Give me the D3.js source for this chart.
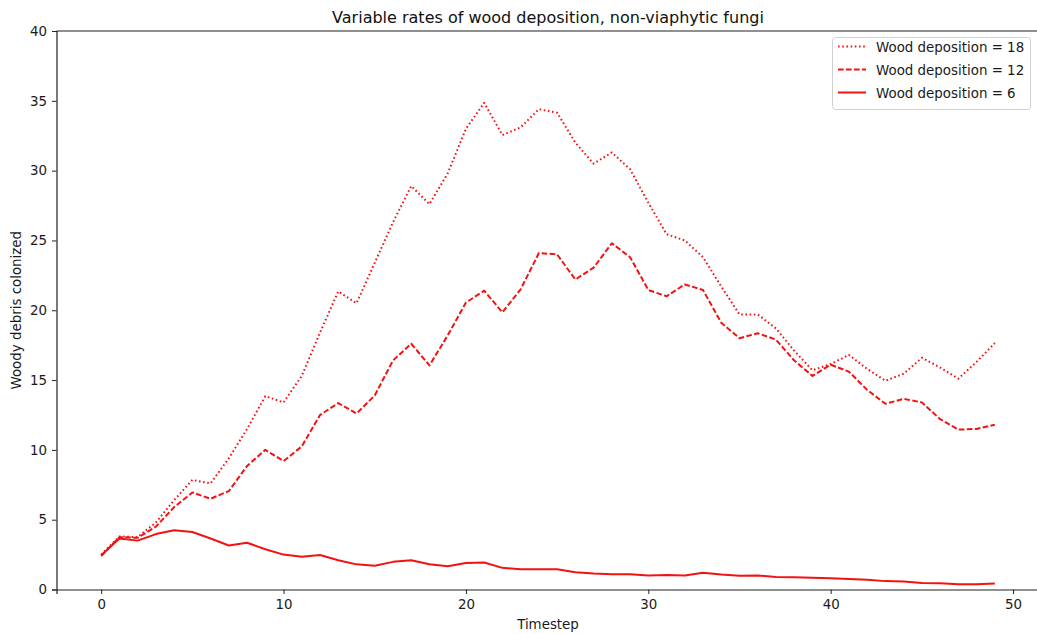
<!DOCTYPE html>
<html>
<head>
<meta charset="utf-8">
<script src="https://cdn.jsdelivr.net/npm/d3@7"></script>
<style>
  body { margin: 0; background: #fff; }
  svg { display: block; font-family: "DejaVu Sans", sans-serif; }
</style>
</head>
<body>
<svg id="chart" width="1037" height="634"></svg>
<script>
const timesteps = d3.range(0, 50);
const dep18 = [2.5, 3.8, 3.75, 4.8, 6.4, 7.85, 7.6, 9.4, 11.5, 13.85, 13.4, 15.3, 18.4, 21.35, 20.5, 23.4, 26.3, 28.9, 27.6, 29.8,
  33.0, 34.85, 32.55, 33.1, 34.4, 34.15, 32.0, 30.5, 31.3, 30.1, 27.7, 25.45, 25.0, 23.8, 21.7, 19.7, 19.7, 18.7, 17.1, 15.7,
  16.15, 16.8, 15.8, 14.95, 15.45, 16.6, 15.9, 15.1, 16.3, 17.65];
const dep12 = [2.4, 3.75, 3.7, 4.5, 5.9, 6.95, 6.5, 7.05, 8.85, 10.0, 9.2, 10.25, 12.5, 13.35, 12.6, 13.9, 16.4, 17.6, 16.05, 18.2,
  20.55, 21.4, 19.85, 21.5, 24.1, 24.0, 22.2, 23.05, 24.8, 23.8, 21.45, 21.0, 21.85, 21.45, 19.1, 18.0, 18.35, 17.9, 16.4, 15.3,
  16.1, 15.6, 14.3, 13.3, 13.65, 13.4, 12.2, 11.45, 11.5, 11.8];
const dep6 = [2.45, 3.65, 3.5, 3.97, 4.25, 4.12, 3.65, 3.15, 3.35, 2.88, 2.5, 2.35, 2.47, 2.1, 1.8, 1.7, 1.98, 2.1, 1.81, 1.67,
  1.9, 1.93, 1.55, 1.45, 1.45, 1.45, 1.24, 1.15, 1.1, 1.1, 1.0, 1.03, 1.0, 1.2, 1.07, 0.98, 1.0, 0.9, 0.88, 0.85,
  0.8, 0.75, 0.7, 0.6, 0.57, 0.47, 0.44, 0.37, 0.37, 0.43];
const seriesLabels = ["Wood deposition = 18", "Wood deposition = 12", "Wood deposition = 6"];
const seriesDash = ["1.6,2.6", "5.6,2.4", null];
const xTicks = [0, 10, 20, 30, 40, 50];
const yTicks = [0, 5, 10, 15, 20, 25, 30, 35, 40];

(function () {
const svg = d3.select("#chart");
const pL = 56.5, pR = 1039.5, pT = 31, pB = 589.5;
const x = d3.scaleLinear().domain([-2.45, 51.45]).range([pL, pR]);
const y = d3.scaleLinear().domain([0, 40]).range([pB, pT]);
const color = "#f21212";
const fs = 13.4;

// Title
svg.append("text").attr("x", (pL + pR) / 2).attr("y", 22.5)
  .attr("text-anchor", "middle").attr("font-size", 16).attr("fill", "#111")
  .text("Variable rates of wood deposition, non-viaphytic fungi");

// Axes
const xAxis = svg.append("g").attr("transform", `translate(0,${pB})`)
  .call(d3.axisBottom(x).tickValues(xTicks).tickFormat(d3.format("d")).tickSizeOuter(0).tickSize(4.5).tickPadding(5));
const yAxis = svg.append("g").attr("transform", `translate(${pL},0)`)
  .call(d3.axisLeft(y).tickValues(yTicks).tickFormat(d3.format("d")).tickSizeOuter(0).tickSize(4.5).tickPadding(5));
[xAxis, yAxis].forEach(g => {
  g.selectAll("text").attr("font-size", fs).attr("fill", "#1a1a1a").attr("font-family", "DejaVu Sans, sans-serif");
  g.selectAll("line").attr("stroke", "#222").attr("stroke-width", 1);
  g.select(".domain").attr("stroke", "#222").attr("stroke-width", 1.2);
});
// Top spine
svg.append("line").attr("x1", pL).attr("x2", pR).attr("y1", pT).attr("y2", pT)
  .attr("stroke", "#222").attr("stroke-width", 1.2);

// Axis labels
svg.append("text").attr("x", (pL + pR) / 2).attr("y", 629)
  .attr("text-anchor", "middle").attr("font-size", fs).attr("fill", "#1a1a1a").text("Timestep");
svg.append("text").attr("transform", `translate(21,${(pT + pB) / 2}) rotate(-90)`)
  .attr("text-anchor", "middle").attr("font-size", fs).attr("fill", "#1a1a1a").text("Woody debris colonized");

// Lines
const line = d3.line().x((d, i) => x(timesteps[i])).y(d => y(d));
[dep18, dep12, dep6].forEach((data, k) => {
  svg.append("path").datum(data).attr("d", line)
    .attr("fill", "none").attr("stroke", color).attr("stroke-width", 2)
    .attr("stroke-dasharray", seriesDash[k])
    .attr("stroke-linejoin", "round");
});

// Legend
const lg = svg.append("g");
lg.append("rect").attr("x", 832.5).attr("y", 37.5).attr("width", 198).attr("height", 72)
  .attr("rx", 3).attr("fill", "#fff").attr("fill-opacity", 0.8).attr("stroke", "#d0d0d0");
seriesLabels.forEach((lab, k) => {
  const yy = 46.5 + k * 23;
  lg.append("line").attr("x1", 838).attr("x2", 866).attr("y1", yy).attr("y2", yy)
    .attr("stroke", color).attr("stroke-width", 2).attr("stroke-dasharray", seriesDash[k]);
  lg.append("text").attr("x", 876).attr("y", yy + 5).attr("font-size", fs).attr("fill", "#1a1a1a").text(lab);
});
})();
</script>
</body>
</html>
